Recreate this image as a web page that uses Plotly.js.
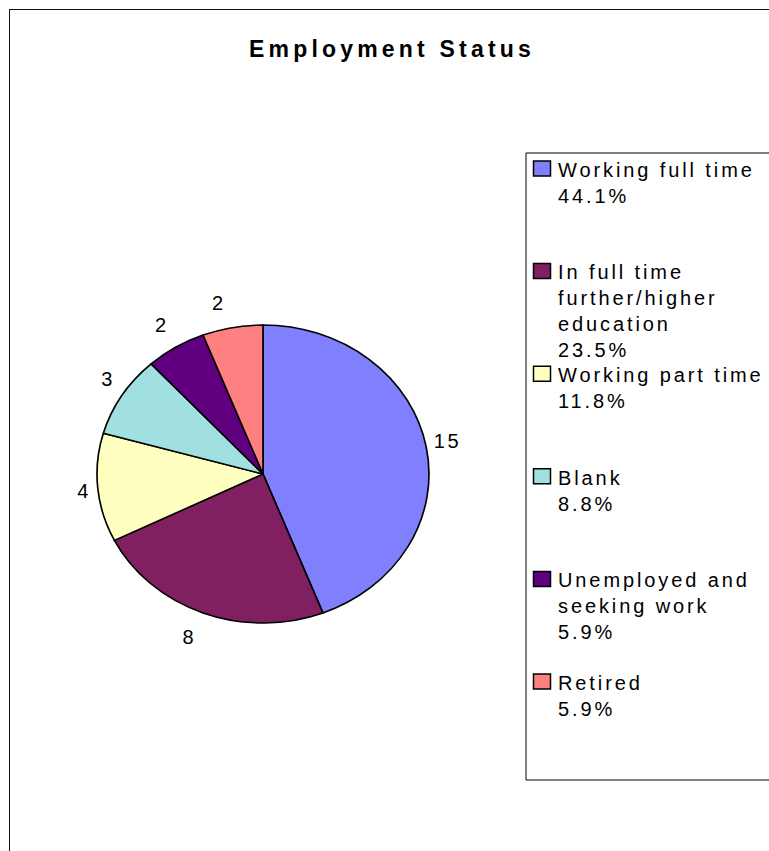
<!DOCTYPE html>
<html>
<head>
<meta charset="utf-8">
<script src="https://cdn.plot.ly/plotly-3.0.1.min.js"></script>
<style>
  html, body { margin: 0; padding: 0; background: #fff; overflow: hidden; width: 769px; height: 851px; }
  #frame { position: absolute; left: 9px; top: 9px; width: 800px; height: 900px; border: 1px solid #111; box-sizing: content-box; }
  #chart { width: 800px; height: 900px; }
  .gtitle { letter-spacing: 4.2px; }
  .legendtext { letter-spacing: 2.9px; }
  .slicetext { letter-spacing: 2.5px; }
</style>
</head>
<body>
<div id="frame"><div id="chart"></div></div>
<script>
// ---- data ----
const categories = [
  "Working full time",
  "In full time further/higher education",
  "Working part time",
  "Blank",
  "Unemployed and seeking work",
  "Retired"
];
const legendLines = [
  ["Working full time"],
  ["In full time", "further/higher", "education"],
  ["Working part time"],
  ["Blank"],
  ["Unemployed and", "seeking work"],
  ["Retired"]
];
const counts = [15, 8, 4, 3, 2, 2];
const sliceColors = ["#8080FF", "#802060", "#FFFFC0", "#A0E0E0", "#600080", "#FF8080"];

// ---- legend labels (name + share, padded to 4 lines) ----
const total = counts.reduce((a, b) => a + b, 0);
const NBSP = "\u00a0";
const legendLabels = legendLines.map((lines, i) => {
  const pct = (counts[i] / total * 100).toFixed(1) + "%";
  const all = lines.concat([pct]);
  while (all.length < 4) all.push(NBSP);
  return all.join("<br>");
});

const FONT = 'Arial, "Liberation Sans", sans-serif';
const W = 800, H = 900;
// pie geometry (plot px)
const pieCx = 253, pieCy = 464, pieRy = 149, pieRx = 166;
const legendStep = 102.6;   // vertical distance between legend entries
const labelGap = 14;        // extra vertical clearance of value labels

const data = [{
  type: "pie",
  labels: legendLabels,
  values: counts,
  sort: false,
  direction: "clockwise",
  rotation: 0,
  marker: { colors: sliceColors, line: { color: "#000", width: 1.5 } },
  textinfo: "value",
  textposition: "outside",
  textfont: { family: FONT, size: 20, color: "#000" },
  automargin: false,
  hoverinfo: "none",
  domain: {
    x: [(pieCx - pieRy) / W, (pieCx + pieRy) / W],
    y: [(H - pieCy - pieRy) / H, (H - pieCy + pieRy) / H]
  }
}];

const layout = {
  width: W, height: H,
  margin: { l: 0, r: 0, t: 0, b: 0 },
  paper_bgcolor: "#fff",
  plot_bgcolor: "#fff",
  font: { family: FONT, color: "#000" },
  title: {
    text: "<b>Employment Status</b>",
    font: { family: FONT, size: 23, color: "#000" },
    x: 382 / W, xanchor: "center", xref: "container",
    y: 1 - 39 / H, yanchor: "middle", yref: "container"
  },
  showlegend: true,
  legend: {
    x: 508 / W, xanchor: "left",
    y: 1 - 139.5 / H, yanchor: "top",
    font: { family: FONT, size: 20, color: "#000" },
    borderwidth: 0, bgcolor: "rgba(0,0,0,0)",
    valign: "top", traceorder: "normal"
  },
  shapes: [{
    type: "rect", xref: "paper", yref: "paper",
    x0: 516 / W, x1: 1.2, y0: 1 - 770 / H, y1: 1 - 143 / H,
    line: { color: "#000", width: 1 }, fillcolor: "rgba(0,0,0,0)", layer: "below"
  }]
};

const gd = document.getElementById("chart");
Plotly.newPlot(gd, data, layout, { staticPlot: true, displayModeBar: false }).then(() => {
  // stretch the pie horizontally to match the elliptical original
  const cd0 = gd.calcdata[0][0];
  const cx = cd0.cx, cy = cd0.cy;
  const sx = pieRx / pieRy;
  gd.querySelectorAll(".pielayer .trace").forEach(g => {
    g.setAttribute("transform", `translate(${cx},${cy}) scale(${sx},1) translate(${-cx},${-cy})`);
  });
  const svgBox = gd.querySelector(".main-svg").getBoundingClientRect();
  // undo the stretch on the value labels, and give them a little more room
  gd.querySelectorAll(".pielayer text.slicetext").forEach(t => {
    const bb = t.getBBox();
    const bx = bb.x + bb.width / 2, by = bb.y + bb.height / 2;
    const tr = t.getAttribute("transform") || "";
    t.setAttribute("transform", tr + ` translate(${bx},${by}) scale(${1 / sx},1) translate(${-bx},${-by})`);
    const r = t.getBoundingClientRect();
    const mx = r.left + r.width / 2 - svgBox.left - cx;
    const my = r.top + r.height / 2 - svgBox.top - cy;
    const uy = my / Math.hypot(mx, my);
    const push = Math.sign(uy) * labelGap * Math.min(1, 2.5 * Math.abs(uy));
    t.setAttribute("transform", `translate(0,${push}) ` + t.getAttribute("transform"));
  });
  // legend swatches like the original
  gd.querySelectorAll(".legendpoints path.legendpie").forEach(p => {
    p.setAttribute("d", "M12.5,7H-4.5V-8H12.5Z");
  });
  // even spacing of legend entries
  let first = null;
  gd.querySelectorAll(".legend .traces").forEach((g, i) => {
    const m = /translate\(\s*([-\d.e]+)[ ,]+([-\d.e]+)\s*\)/.exec(g.getAttribute("transform") || "");
    if (!m) return;
    const x = parseFloat(m[1]), y = parseFloat(m[2]);
    if (first === null) first = y;
    g.setAttribute("transform", `translate(${x},${first + i * legendStep})`);
  });
});
</script>
</body>
</html>
